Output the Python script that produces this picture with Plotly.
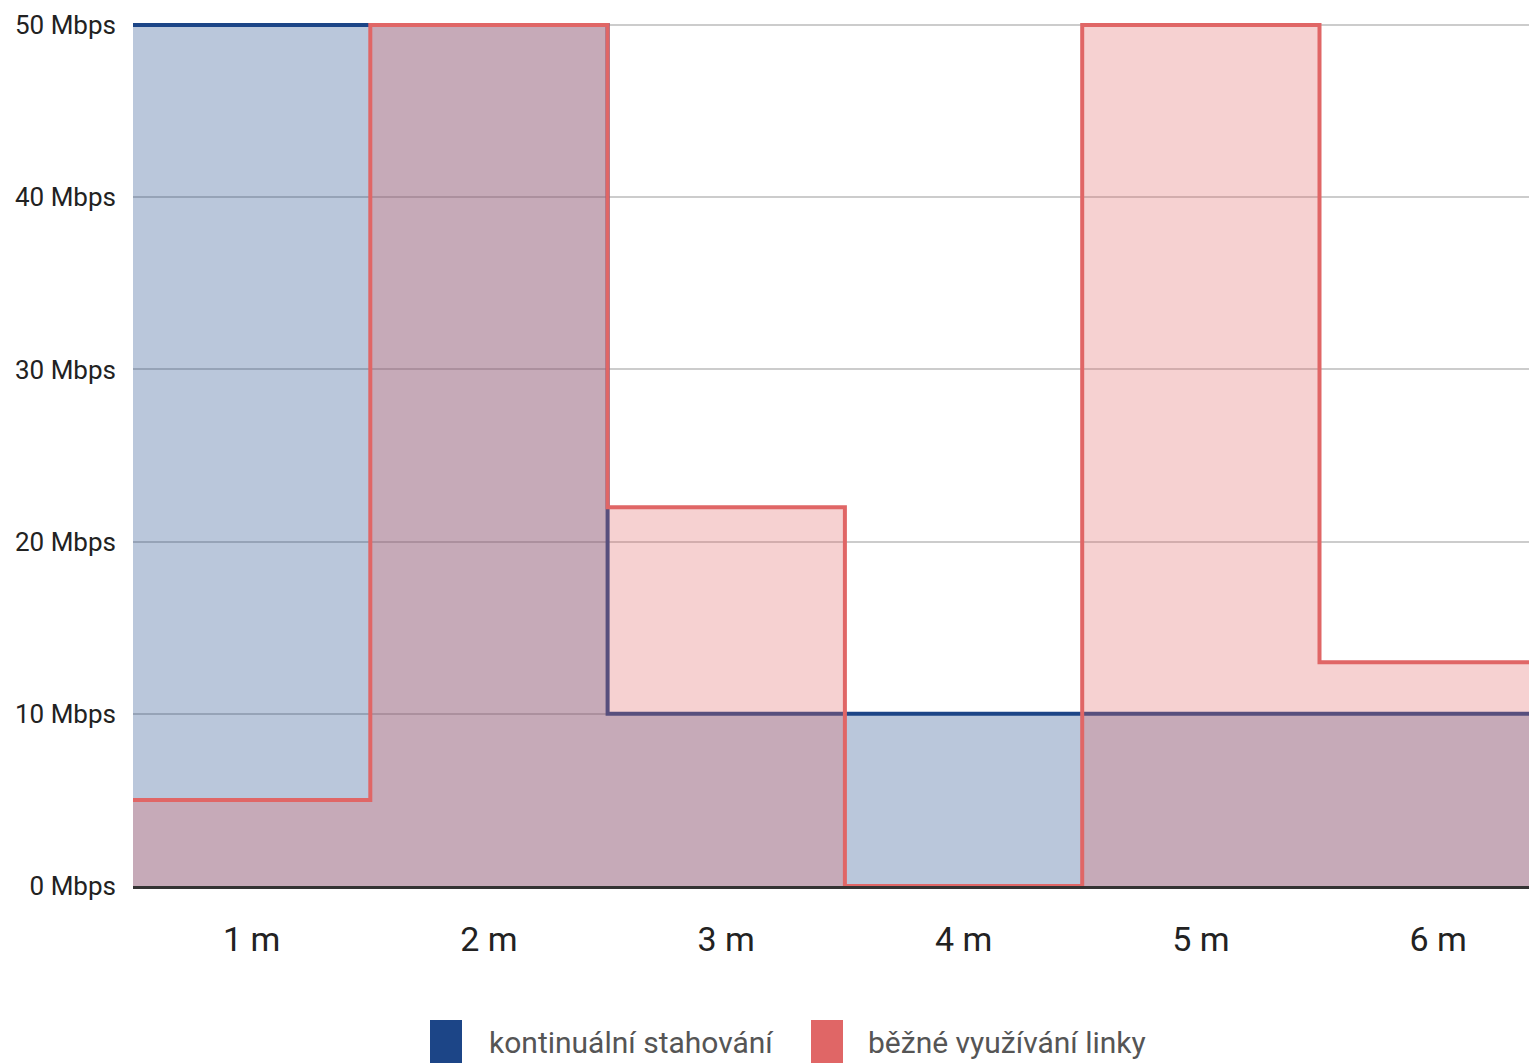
import plotly.graph_objects as go

categories = ["1 m", "2 m", "3 m", "4 m", "5 m", "6 m"]
kontinualni = [50, 50, 10, 10, 10, 10]
bezne = [5, 50, 22, 0, 50, 13]
y_ticks = [0, 10, 20, 30, 40, 50]
y_tick_labels = [f"{v} Mbps" for v in y_ticks]
series_names = ["kontinuální stahování", "běžné využívání linky"]

BLUE = "#1c4587"
RED = "#e06666"
FONT = "Roboto"

pos = list(range(1, len(categories) + 1))
edges = [p - 0.5 for p in pos] + [pos[-1] + 0.5]


def step_y(vals):
    return list(vals) + [vals[-1]]


fig = go.Figure()
fig.add_trace(go.Scatter(
    x=edges, y=step_y(kontinualni), mode="lines", line_shape="hv",
    line=dict(color=BLUE, width=4), fill="tozeroy",
    fillcolor="rgba(28,69,135,0.3)", name=series_names[0], showlegend=False,
    hoverinfo="skip"))
fig.add_trace(go.Scatter(
    x=edges, y=step_y(bezne), mode="lines", line_shape="hv",
    line=dict(color=RED, width=4), fill="tozeroy",
    fillcolor="rgba(224,102,102,0.3)", name=series_names[1], showlegend=False,
    hoverinfo="skip"))

# page offset (body margin) compensation
OFF = 8
W, H = 1537, 1063
ML, MR, MT, MB = 133 - OFF, 0, 22 - OFF, 177 + OFF
plot_w = W - ML - MR
plot_h = H - MT - MB
unit_px = 237.3
x_max = 0.5 + plot_w / unit_px
y_top = 50 * plot_h / 861


def px_to_paper_x(px):
    # px given in page (screenshot) coordinates
    return (px - OFF - ML) / plot_w


def px_to_paper_y(py):
    return (H - MB - (py - OFF)) / plot_h


fig.update_layout(
    width=W, height=H,
    margin=dict(l=ML, r=MR, t=MT, b=MB, pad=0, autoexpand=False),
    paper_bgcolor="white", plot_bgcolor="white",
    font=dict(family=FONT, color="#222222"),
    xaxis=dict(range=[0.5, x_max], tickvals=pos, ticktext=categories,
               showgrid=False, zeroline=False, showline=True,
               linecolor="#333333", linewidth=3, ticks="", automargin=False,
               tickfont=dict(size=34, color="#222222", family=FONT),
               ticklabelstandoff=21, fixedrange=True),
    yaxis=dict(range=[0, y_top], tickvals=y_ticks, ticktext=y_tick_labels,
               showgrid=True, gridcolor="#cccccc", gridwidth=2,
               zeroline=False, showline=False, ticks="", automargin=False,
               tickfont=dict(size=26, color="#222222", family=FONT),
               ticklabelstandoff=16, fixedrange=True),
    showlegend=False,
)

# manual legend (tall colour swatches + labels), placed below the plot
legend_items = [(BLUE, series_names[0], 430, 487), (RED, series_names[1], 811, 866)]
for color, label, sx, tx in legend_items:
    fig.add_shape(type="rect", xref="paper", yref="paper",
                  x0=px_to_paper_x(sx), x1=px_to_paper_x(sx + 32),
                  y0=px_to_paper_y(1075), y1=px_to_paper_y(1020),
                  fillcolor=color, line=dict(width=0), layer="above")
    fig.add_annotation(xref="paper", yref="paper",
                       x=px_to_paper_x(tx), y=px_to_paper_y(1042),
                       xanchor="left", yanchor="middle", showarrow=False,
                       text=label, font=dict(size=30, color="#555555", family=FONT))

fig.write_html("out.html")
